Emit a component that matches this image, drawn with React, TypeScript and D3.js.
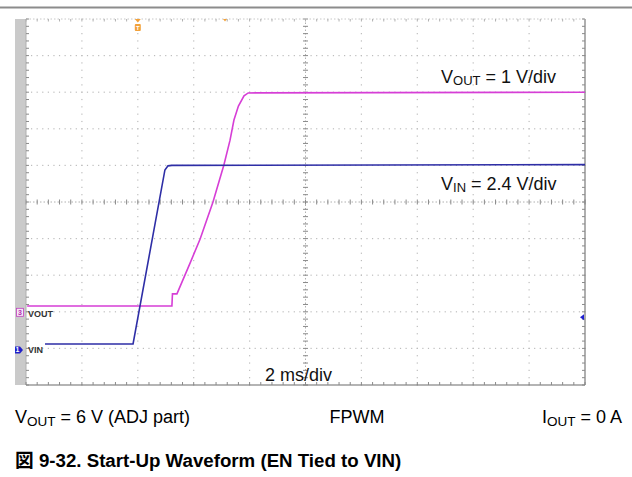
import React from "react";
import * as d3 from "d3";

// Time axis (ms), 2 ms/div, 10 divisions
const timeDomain = [0, 20];
const divDomain = [-5, 5];

// VIN trace (V), 2.4 V/div, ground at -4 div
const vinTime = [0.68, 3.83, 4.97, 5.08, 5.22, 20];
const vinVolts = [0.29, 0.29, 11.7, 11.97, 12.0, 12.05];

// VOUT trace (V), 1 V/div, ground at -3 div
const voutTime = [0.04, 5.22, 5.24, 5.4, 5.87, 6.23, 6.69, 7.08, 7.3, 7.44, 7.6, 7.8, 7.95, 20];
const voutVolts = [0.16, 0.16, 0.49, 0.49, 1.33, 1.99, 3.0, 4.01, 4.69, 5.24, 5.62, 5.9, 5.98, 6.0];

const vinScale = 2.4;
const voutScale = 1;
const vinOffsetDiv = -4;
const voutOffsetDiv = -3;
const triggerTime = 4.0;
const triggerMarkTime = 7.12;

const font = "'Liberation Sans', Arial, 'Noto Sans CJK JP', sans-serif";

export default function App() {
  const W = 632, H = 477;
  const L = 26, R = 585, T = 19, B = 385;
  const x = d3.scaleLinear().domain(timeDomain).range([L, R]);
  const y = d3.scaleLinear().domain(divDomain).range([B, T]);

  const xMajor = d3.range(timeDomain[0], timeDomain[1] + 0.001, 2);
  const yMajor = d3.range(divDomain[0], divDomain[1] + 0.001, 1);
  const xMinor = d3.range(timeDomain[0], timeDomain[1] + 0.001, 0.4);
  const yMinor = d3.range(divDomain[0], divDomain[1] + 0.001, 0.2);
  const xDots = d3.range(timeDomain[0], timeDomain[1] + 0.001, 0.2);

  const vinData = vinTime.map((t, i) => [t, vinOffsetDiv + vinVolts[i] / vinScale] as [number, number]);
  const voutData = voutTime.map((t, i) => [t, voutOffsetDiv + voutVolts[i] / voutScale] as [number, number]);
  const line = d3.line<[number, number]>().x(d => x(d[0])).y(d => y(d[1]));

  const cx = x(10), cy = y(0);
  const dotColor = "#bdbdbd";
  const tickColor = "#8a8a8a";

  return (
    <svg width={W} height={H} style={{ position: "absolute", left: 0, top: 0, background: "#fff" }} fontFamily={font}>
      <rect x={0} y={0} width={W} height={H} fill="#fff" />
      <line x1={0} x2={W} y1={7.5} y2={7.5} stroke="#8c8c8c" strokeWidth={2} />

      {/* left gray strip */}
      <rect x={15} y={T} width={L - 15} height={B - T} fill="#cacaca" />

      {/* dotted grid: vertical lines */}
      {xMajor.filter(t => t !== 10 && t !== 0 && t !== 20).map(t =>
        yMinor.map(d => (
          <rect key={`vd${t}_${d}`} x={x(t) - 0.6} y={y(d) - 0.6} width={1.2} height={1.2} fill={dotColor} />
        ))
      )}
      {/* dotted grid: horizontal lines */}
      {yMajor.filter(d => d !== 0 && d !== 5 && d !== -5).map(d =>
        xDots.map(t => (
          <rect key={`hd${d}_${t}`} x={x(t) - 0.6} y={y(d) - 0.6} width={1.2} height={1.2} fill={dotColor} />
        ))
      )}

      {/* center cross with ticks */}
      <line x1={L} x2={R} y1={cy} y2={cy} stroke="#b0b0b0" strokeWidth={1} strokeDasharray="1.5 2" />
      <line x1={cx} x2={cx} y1={T} y2={B} stroke="#b0b0b0" strokeWidth={1} strokeDasharray="1.5 2" />
      {xMinor.map(t => (
        <line key={`cxt${t}`} x1={x(t)} x2={x(t)} y1={cy - 2.5} y2={cy + 2.5} stroke={tickColor} strokeWidth={1} />
      ))}
      {yMinor.map(d => (
        <line key={`cyt${d}`} x1={cx - 2.5} x2={cx + 2.5} y1={y(d)} y2={y(d)} stroke={tickColor} strokeWidth={1} />
      ))}

      {/* edges */}
      <line x1={L} x2={R} y1={T} y2={T} stroke="#c8c8c8" strokeWidth={1} strokeDasharray="1.5 2" />
      <line x1={L} x2={L} y1={T} y2={B} stroke="#b0b0b0" strokeWidth={1} />
      <line x1={R} x2={R} y1={T} y2={B} stroke="#7a7a7a" strokeWidth={1.2} />
      <line x1={L} x2={R} y1={B} y2={B} stroke="#6a6a6a" strokeWidth={1.2} />
      {yMinor.map(d => (
        <g key={`et${d}`}>
          <line x1={L} x2={L + 3} y1={y(d)} y2={y(d)} stroke={tickColor} />
          <line x1={R - 3} x2={R} y1={y(d)} y2={y(d)} stroke={tickColor} />
        </g>
      ))}
      {xMinor.map(t => (
        <g key={`eb${t}`}>
          <line x1={x(t)} x2={x(t)} y1={B - 3} y2={B} stroke={tickColor} />
          <line x1={x(t)} x2={x(t)} y1={T} y2={T + 2.5} stroke="#b0b0b0" />
        </g>
      ))}

      {/* traces */}
      <path d={line(voutData) || ""} fill="none" stroke="#d63ed6" strokeWidth={1.6} />
      <path d={line(vinData) || ""} fill="none" stroke="#2e2ea6" strokeWidth={1.6} />

      {/* trigger markers */}
      <path d={`M${x(triggerTime) - 3},${T} L${x(triggerTime) + 3},${T} L${x(triggerTime)},${T + 3.5} Z`} fill="#f2a13a" />
      <rect x={x(triggerTime) - 3} y={T + 5} width={6} height={7} fill="#f2a13a" rx={1} />
      <text x={x(triggerTime)} y={T + 10.8} fontSize={6} fill="#fff" textAnchor="middle" fontWeight="bold">T</text>
      <path d={`M${x(triggerMarkTime) - 2},${T} L${x(triggerMarkTime) + 2},${T} L${x(triggerMarkTime)},${T + 2.5} Z`} fill="#f2a13a" />

      {/* right blue arrow */}
      <path d={`M${R - 5},${y(-3.15)} L${R - 1},${y(-3.15) - 3} L${R - 1},${y(-3.15) + 3} Z`} fill="#2020d0" />

      {/* channel markers */}
      <rect x={16.5} y={y(voutOffsetDiv) - 3.5} width={7} height={8} fill="#f6e6f6" stroke="#c040c0" strokeWidth={0.8} />
      <text x={20} y={y(voutOffsetDiv) + 3} fontSize={7} fill="#b030b0" textAnchor="middle" fontWeight="bold">3</text>
      <text x={28} y={y(voutOffsetDiv) + 5} fontSize={9} fill="#333" fontWeight="bold">VOUT</text>

      <path d={`M15,${y(vinOffsetDiv) - 2} L20,${y(vinOffsetDiv) - 2} L23,${y(vinOffsetDiv) + 1.5} L20,${y(vinOffsetDiv) + 5} L15,${y(vinOffsetDiv) + 5} Z`} fill="#2020c8" />
      <text x={17.5} y={y(vinOffsetDiv) + 4} fontSize={7} fill="#fff" textAnchor="middle" fontWeight="bold">1</text>
      <text x={28} y={y(vinOffsetDiv) + 5} fontSize={9} fill="#333" fontWeight="bold">VIN</text>

      {/* scale labels */}
      <text x={441} y={83} fontSize={18} fill="#111">V<tspan fontSize={13} dy={2}>OUT</tspan><tspan dy={-2}> = 1 V/div</tspan></text>
      <text x={441} y={190} fontSize={18} fill="#111">V<tspan fontSize={13} dy={2}>IN</tspan><tspan dy={-2}> = 2.4 V/div</tspan></text>
      <text x={265} y={381} fontSize={18} fill="#111">2 ms/div</text>

      {/* conditions */}
      <text x={15} y={423} fontSize={18} fill="#000">V<tspan fontSize={13.5} dy={3}>OUT</tspan><tspan dy={-3}> = 6 V (ADJ part)</tspan></text>
      <text x={357} y={423} fontSize={18} fill="#000" textAnchor="middle">FPWM</text>
      <text x={622} y={423} fontSize={18} fill="#000" textAnchor="end">I<tspan fontSize={13.5} dy={3}>OUT</tspan><tspan dy={-3}> = 0 A</tspan></text>

      <text x={15} y={467} fontSize={18.7} fontWeight="bold" fill="#000">図 9-32. Start-Up Waveform (EN Tied to VIN)</text>
    </svg>
  );
}
